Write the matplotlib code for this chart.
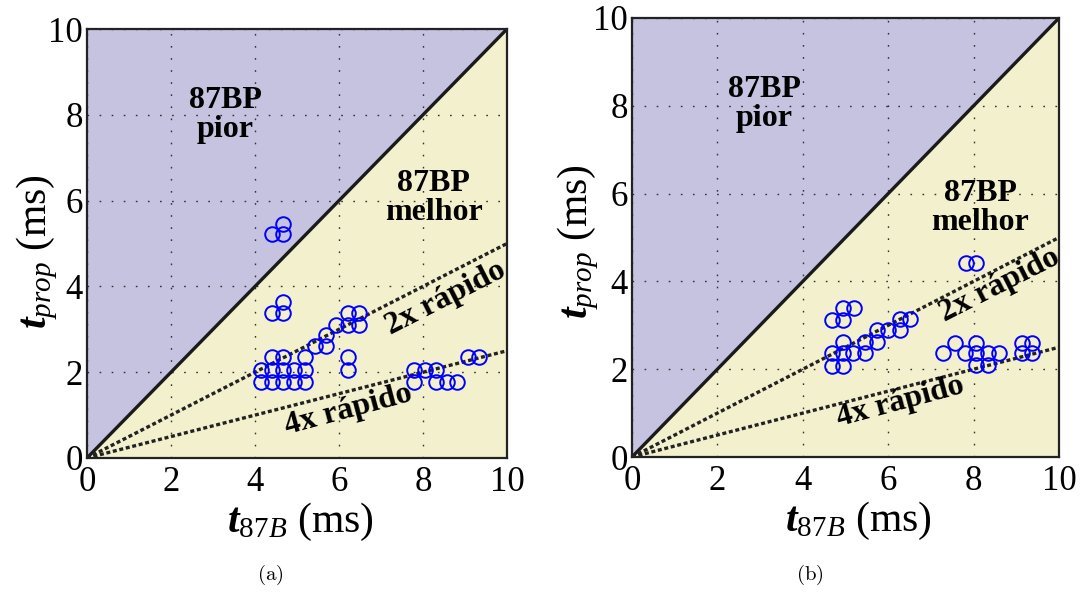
import matplotlib
matplotlib.use("Agg")
import matplotlib.pyplot as plt

SERIF = 'Liberation Serif'
plt.rcParams['font.family'] = 'serif'
plt.rcParams['font.serif'] = [SERIF, 'DejaVu Serif']
plt.rcParams['mathtext.fontset'] = 'custom'
plt.rcParams['mathtext.rm'] = SERIF
plt.rcParams['mathtext.it'] = SERIF + ':italic'
plt.rcParams['mathtext.bf'] = SERIF + ':bold'
plt.rcParams['mathtext.bfit'] = SERIF + ':italic:bold'

# Operating times (ms): conventional 87B vs. proposed method
t87b_a = [4.41, 4.66, 4.66,
          4.41, 4.66, 4.66,
          4.15, 4.41, 4.66, 4.93, 5.18,
          4.15, 4.41, 4.66, 4.93, 5.18,
          4.41, 4.66, 5.18,
          5.42, 5.68, 5.68, 5.94, 6.21, 6.21, 6.48, 6.48, 6.21, 6.21,
          7.78, 7.78, 8.05, 8.32, 8.32, 8.56, 8.82, 9.08, 9.34]
tprop_a = [5.21, 5.46, 5.21,
           3.38, 3.63, 3.38,
           1.78, 1.78, 1.78, 1.78, 1.78,
           2.06, 2.06, 2.06, 2.06, 2.06,
           2.35, 2.35, 2.35,
           2.60, 2.60, 2.87, 3.10, 3.10, 3.38, 3.38, 3.10, 2.35, 2.06,
           2.06, 1.78, 2.06, 2.06, 1.78, 1.78, 1.78, 2.35, 2.35]

t87b_b = [4.68, 4.95, 4.95, 5.21,
          4.95, 4.68, 4.95, 5.18, 5.46, 4.68, 4.95,
          5.46, 5.73, 5.73, 5.99, 6.28, 6.28, 6.51,
          7.28, 7.56, 7.80, 8.06, 8.06, 8.06, 8.34, 8.34, 8.59,
          9.13, 9.36, 9.13, 9.36,
          7.82, 8.06]
tprop_b = [3.12, 3.39, 3.12, 3.39,
           2.63, 2.36, 2.36, 2.36, 2.36, 2.08, 2.08,
           2.63, 2.63, 2.89, 2.89, 2.89, 3.14, 3.14,
           2.36, 2.60, 2.36, 2.60, 2.36, 2.10, 2.36, 2.10, 2.36,
           2.60, 2.60, 2.36, 2.36,
           4.43, 4.43]

ticks = [0, 2, 4, 6, 8, 10]
speedups = [2, 4]

PURPLE = '#c5c3e0'
YELLOW = '#f3f0cd'

fig = plt.figure(figsize=(10.83, 5.92), dpi=100)
ax_a = fig.add_axes([87/1083, 1 - 458/592, 420/1083, 429/592])
ax_b = fig.add_axes([632/1083, 1 - 457/592, 427/1083, 439/592])

panels = [
    dict(ax=ax_a, x=t87b_a, y=tprop_a, caption='(a)', cap_x=270/1083,
         pior=(3.3, 8.0), melhor=(8.25, 6.05),
         fast2=(8.53, 3.72), fast4=(6.22, 1.12),
         xlab=(0.507, -0.15), ylab=(-0.118, 0.48)),
    dict(ax=ax_b, x=t87b_b, y=tprop_b, caption='(b)', cap_x=810/1083,
         pior=(3.1, 8.05), melhor=(8.15, 5.68),
         fast2=(8.62, 3.92), fast4=(6.28, 1.25),
         xlab=(0.53, -0.145), ylab=(-0.125, 0.49)),
]

bold = dict(family=SERIF, fontweight='bold', fontsize=23, zorder=5,
            ha='center', va='center')

for p in panels:
    ax = p['ax']
    ax.set_xlim(0, 10)
    ax.set_ylim(0, 10)
    # regions above / below the identity line
    ax.fill([0, 0, 10], [0, 10, 10], color=PURPLE, zorder=0, lw=0)
    ax.fill([0, 10, 10], [0, 0, 10], color=YELLOW, zorder=0, lw=0)
    ax.set_xticks(ticks)
    ax.set_yticks(ticks)
    ax.grid(True, linestyle=(0, (1.2, 7.5)), color='#333333', linewidth=1.0,
            zorder=1)
    ax.set_axisbelow(False)
    ax.tick_params(length=0, labelsize=25)
    ax.tick_params(axis='x', pad=6)
    ax.tick_params(axis='y', pad=3)
    for lab in ax.get_xticklabels() + ax.get_yticklabels():
        lab.set_family(SERIF)
    for s in ax.spines.values():
        s.set_linewidth(1.6)
        s.set_color('#222222')
        s.set_zorder(6)

    ax.plot([0, 10], [0, 10], color='#1a1a1a', lw=2.4, zorder=3,
            solid_capstyle='butt')
    for k in speedups:
        ax.plot([0, 10], [0, 10 / k], color='#222222', lw=2.4,
                linestyle=(0, (1.2, 0.8)), zorder=3)

    ax.plot(p['x'], p['y'], linestyle='none', marker='o', markersize=10.5,
            markerfacecolor='none', markeredgecolor='#0000ff',
            markeredgewidth=1.4, zorder=4)

    ax.text(*p['pior'], '87BP\npior', linespacing=1.0, **bold)
    ax.text(*p['melhor'], '87BP\nmelhor', linespacing=1.0, **bold)
    ax.text(*p['fast2'], '2x rápido', rotation=27, rotation_mode='anchor', **bold)
    ax.text(*p['fast4'], '4x rápido', rotation=15, rotation_mode='anchor', **bold)

    ax.set_xlabel(r'$\boldsymbol{t}_{\mathit{87B}}$ (ms)', fontsize=30,
                  family=SERIF, va='center')
    ax.set_ylabel(r'$\boldsymbol{t}_{\mathit{prop}}$ (ms)', fontsize=30,
                  family=SERIF, va='center')
    ax.xaxis.set_label_coords(*p['xlab'])
    ax.yaxis.set_label_coords(*p['ylab'])

    fig.text(p['cap_x'], 0.028, r'$\mathrm{' + p['caption'] + '}$',
             ha='center', va='center', fontsize=15, math_fontfamily='cm')

fig.savefig('out.png', dpi=100)
